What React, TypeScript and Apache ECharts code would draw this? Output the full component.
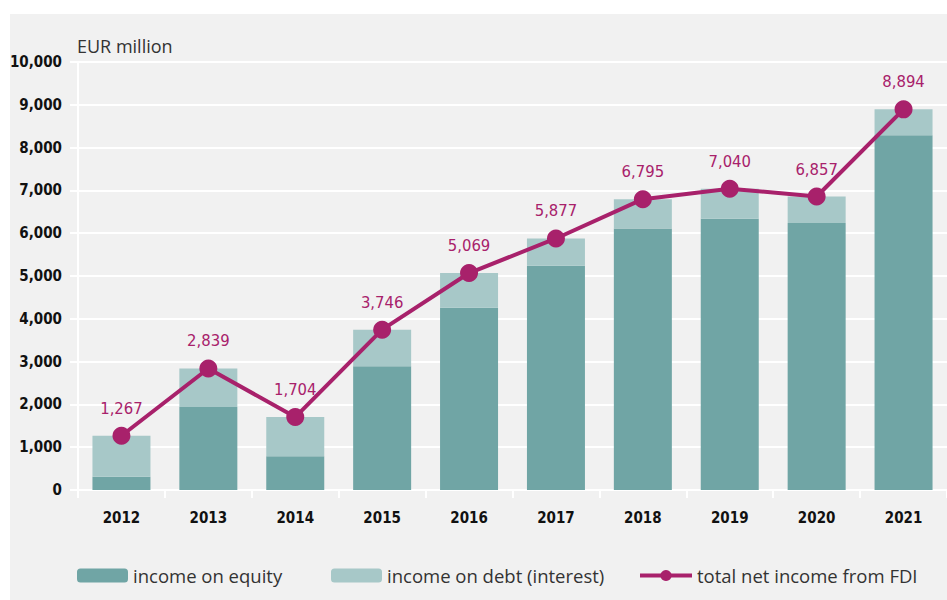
import React, { useEffect, useRef } from "react";
import * as echarts from "echarts";

const years = ["2012", "2013", "2014", "2015", "2016", "2017", "2018", "2019", "2020", "2021"];
const equity = [310, 1940, 790, 2890, 4260, 5240, 6110, 6340, 6240, 8290];
const total = [1267, 2839, 1704, 3746, 5069, 5877, 6795, 7040, 6857, 8894];
const debt = total.map((t, i) => t - equity[i]);

const FONT = "'Liberation Sans Narrow', 'DejaVu Sans Condensed', 'Open Sans', sans-serif";
const LEG_FONT = "'Open Sans', sans-serif";
const GRAY = "#f1f1f1";
const EQ = "#70a5a5";
const DEBT = "#a7c8c8";
const LINE = "#a8216b";

export default function App() {
  const ref = useRef<HTMLDivElement>(null);
  useEffect(() => {
    document.body.style.margin = "0";
    const chart = echarts.init(ref.current!, undefined, { renderer: "svg" });
    const legText = { fontSize: 18.5, color: "#333", fontFamily: LEG_FONT };
    chart.setOption({
      animation: false,
      backgroundColor: "#ffffff",
      graphic: [
        { type: "rect", z: -10, shape: { x: 10, y: 14, width: 937, height: 586 }, style: { fill: GRAY } },
        { type: "text", left: 77, top: 37, style: { text: "EUR million", fontFamily: LEG_FONT, fontSize: 18, fill: "#333" } },
      ],
      grid: { left: 78, right: 0, top: 62, bottom: 110 },
      legend: [
        { data: ["income on equity"], left: 77, top: 566, padding: 0, itemWidth: 51, itemHeight: 14, textStyle: legText },
        { data: ["income on debt (interest)"], left: 331, top: 566, padding: 0, itemWidth: 51, itemHeight: 14, textStyle: legText },
        {
          data: ["total net income from FDI"], left: 638, top: 566, padding: 0, itemWidth: 52, itemHeight: 14,
          lineStyle: { width: 4 }, textStyle: legText,
        },
      ],
      xAxis: {
        type: "category",
        data: years,
        axisLine: { lineStyle: { color: "#ffffff", width: 2 } },
        axisTick: { show: true, length: 8, lineStyle: { color: "#ffffff", width: 2 } },
        axisLabel: { margin: 20, color: "#111", fontSize: 15, fontWeight: "bold", fontFamily: FONT },
      },
      yAxis: {
        type: "value",
        min: 0,
        max: 10000,
        interval: 1000,
        axisLine: { show: true, lineStyle: { color: "#ffffff", width: 2 } },
        axisTick: { show: true, length: 8, lineStyle: { color: "#ffffff", width: 2 } },
        splitLine: { lineStyle: { color: "#ffffff", width: 2 } },
        axisLabel: {
          margin: 16,
          color: "#111",
          fontSize: 15,
          fontWeight: "bold",
          fontFamily: FONT,
          formatter: (v: number) => v.toLocaleString("en-US"),
        },
      },
      series: [
        { name: "income on equity", type: "bar", stack: "a", data: equity, barWidth: 58, itemStyle: { color: EQ } },
        { name: "income on debt (interest)", type: "bar", stack: "a", data: debt, barWidth: 58, itemStyle: { color: DEBT } },
        {
          name: "total net income from FDI",
          type: "line",
          data: total,
          symbol: "circle",
          symbolSize: 18,
          lineStyle: { color: LINE, width: 4 },
          itemStyle: { color: LINE },
          label: {
            show: true,
            position: "top",
            distance: 10,
            color: LINE,
            fontSize: 16.5,
            fontFamily: FONT,
            formatter: (p: any) => Number(p.value).toLocaleString("en-US"),
          },
          z: 5,
        },
      ],
    });
    return () => chart.dispose();
  }, []);
  return <div ref={ref} style={{ width: 947, height: 600 }} />;
}
